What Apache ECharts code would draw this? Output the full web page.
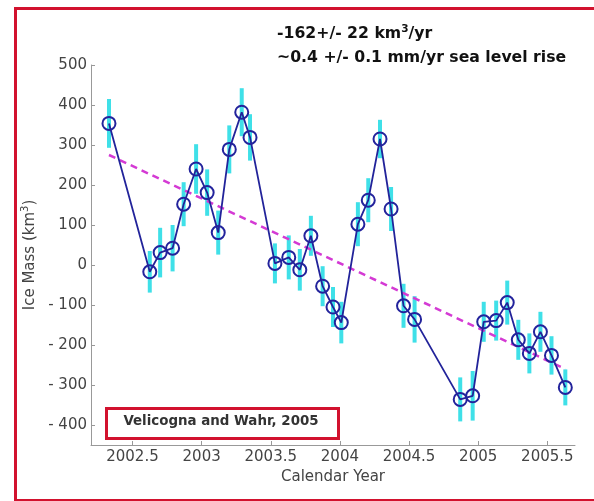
<!DOCTYPE html>
<html>
<head>
<meta charset="utf-8">
<script src="https://cdn.jsdelivr.net/npm/echarts@6/dist/echarts.min.js"></script>
<style>
html,body{margin:0;padding:0;background:#fff;}
#c{width:594px;height:501px;}
</style>
</head>
<body>
<div id="c"></div>
<script>
// ---- data ----
var years = [2002.33, 2002.625, 2002.70, 2002.79, 2002.87, 2002.96, 2003.04, 2003.12, 2003.20, 2003.29, 2003.35,
             2003.53, 2003.63, 2003.71, 2003.79, 2003.875, 2003.95, 2004.01,
             2004.13, 2004.205, 2004.29, 2004.37, 2004.46, 2004.54,
             2004.87, 2004.96, 2005.04, 2005.13, 2005.21, 2005.29, 2005.37, 2005.45, 2005.53, 2005.63];
var iceMass = [354, -17, 31, 42, 152, 240, 181, 81, 289, 382, 319,
               4, 19, -12, 73, -53, -105, -144,
               102, 162, 315, 140, -102, -136,
               -336, -327, -142, -139, -94, -187, -221, -167, -226, -306];
var errBar = [61, 52, 62, 58, 55, 62, 58, 55, 60, 60, 58,
              50, 55, 52, 50, 50, 50, 52,
              55, 55, 48, 55, 55, 58,
              55, 62, 50, 50, 55, 50, 50, 50, 48, 45];
var trendX = [2002.33, 2005.63];
var trendY = [275, -260];
var yTicks = [-400, -300, -200, -100, 0, 100, 200, 300, 400, 500];
var xTicks = [2002.5, 2003, 2003.5, 2004, 2004.5, 2005, 2005.5];
var annotation1 = '-162+/- 22 km';
var annotation2 = '~0.4 +/- 0.1 mm/yr sea level rise';
var sourceLabel = 'Velicogna and Wahr, 2005';

var FONT = '"DejaVu Sans", Verdana, sans-serif';
var mainData = years.map(function (x, i) { return [x, iceMass[i]]; });
var errData = years.map(function (x, i) { return [x, iceMass[i], errBar[i]]; });
var trendData = trendX.map(function (x, i) { return [x, trendY[i]]; });

var chart = echarts.init(document.getElementById('c'), null, {renderer: 'canvas'});
chart.setOption({
  backgroundColor: '#fff',
  animation: false,
  grid: {left: 91, right: 19, top: 65, bottom: 56, containLabel: false},
  xAxis: {
    type: 'value', min: 2002.2, max: 2005.7,
    name: 'Calendar Year', nameLocation: 'middle', nameGap: 23,
    nameTextStyle: {fontFamily: FONT, fontSize: 15, color: '#444'},
    axisLine: {onZero: false, lineStyle: {color: '#999', width: 1}},
    axisTick: {inside: true, length: 4, lineStyle: {color: '#999'}, customValues: xTicks},
    axisLabel: {customValues: xTicks, fontFamily: FONT, fontSize: 15, color: '#444', margin: 5,
      formatter: function (v) { return String(v); }},
    splitLine: {show: false}
  },
  yAxis: {
    type: 'value', min: -450, max: 500,
    name: '{a|Ice Mass (km}{s|3}{a|)}', nameLocation: 'middle', nameGap: 43, nameRotate: 90,
    nameTextStyle: {fontFamily: FONT, fontSize: 15, color: '#444',
      rich: {a: {fontFamily: FONT, fontSize: 15, color: '#444'}, s: {fontFamily: FONT, fontSize: 10, color: '#444', verticalAlign: 'top', padding: [0, 0, 8, 0]}}},
    axisLine: {show: true, lineStyle: {color: '#999', width: 1}},
    axisTick: {show: true, inside: true, length: 4, lineStyle: {color: '#999'}, customValues: yTicks},
    axisLabel: {customValues: yTicks, fontFamily: FONT, fontSize: 15, color: '#444', margin: 4,
      formatter: function (v) { return v < 0 ? '- ' + Math.abs(v) : String(v); }},
    splitLine: {show: false}
  },
  series: [
    {
      type: 'custom', z: 2, data: errData,
      renderItem: function (params, api) {
        var x = api.value(0), y = api.value(1), e = api.value(2);
        var top = api.coord([x, y + e]);
        var bot = api.coord([x, y - e]);
        return {type: 'rect', shape: {x: top[0] - 2, y: top[1], width: 4, height: bot[1] - top[1]},
          style: {fill: '#3fe0e8'}};
      }
    },
    {
      type: 'line', z: 3, data: trendData, symbol: 'none',
      lineStyle: {color: '#d43ad4', width: 2.5, type: [7, 5]}
    },
    {
      type: 'line', z: 4, data: mainData, symbol: 'circle', symbolSize: 13,
      lineStyle: {color: '#22239a', width: 1.8},
      itemStyle: {color: 'rgba(0,0,0,0)', borderColor: '#23239c', borderWidth: 2}
    }
  ],
  graphic: [
    {type: 'rect', left: 13, top: 6, shape: {width: 600, height: 492},
      style: {fill: 'none', stroke: '#d2122e', lineWidth: 3}, silent: true, z: 0},
    {type: 'text', x: 277, y: 34, z: 10,
      style: {text: '{b|' + annotation1 + '}{s|3}{b|/yr}', verticalAlign: 'middle', fill: '#111',
        rich: {b: {fontFamily: FONT, fontSize: 15.7, fontWeight: 'bold', fill: '#111'},
               s: {fontFamily: FONT, fontSize: 10.5, fontWeight: 'bold', fill: '#111', verticalAlign: 'top', padding: [0, 0, 9, 0]}}}},
    {type: 'text', x: 277, y: 58, z: 10,
      style: {text: annotation2, fill: '#111', font: 'bold 15.7px ' + FONT, verticalAlign: 'middle'}},
    {type: 'rect', left: 105, top: 407, z: 10, shape: {width: 232, height: 30},
      style: {fill: '#fff', stroke: '#d2122e', lineWidth: 3}},
    {type: 'text', x: 221, y: 422, z: 11,
      style: {text: sourceLabel, fill: '#333', font: 'bold 13.4px ' + FONT, align: 'center', verticalAlign: 'middle'}}
  ]
});
</script>
</body>
</html>
